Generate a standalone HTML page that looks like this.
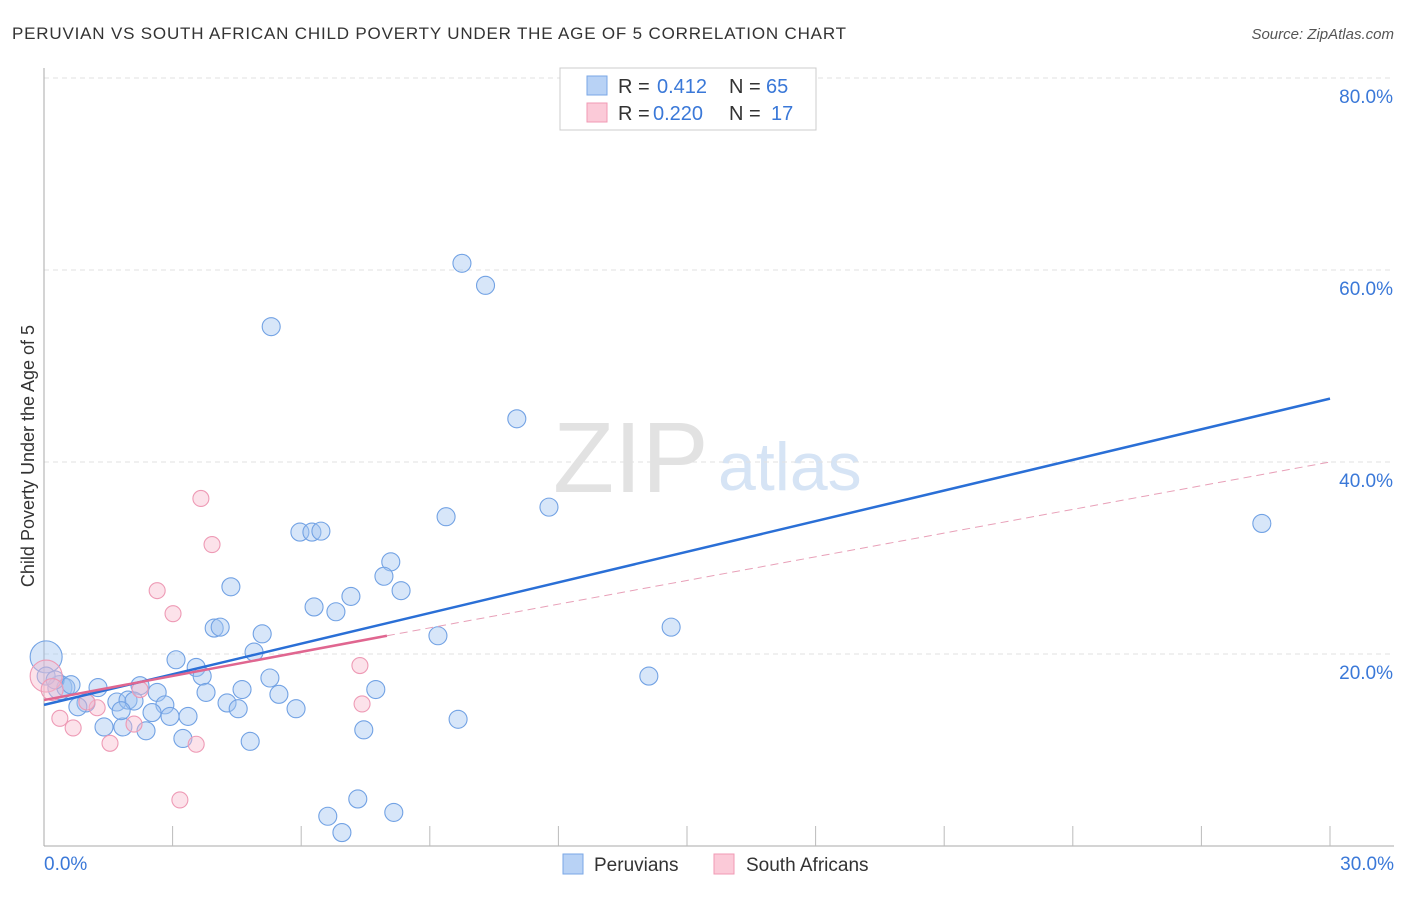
<!DOCTYPE html>
<html><head><meta charset="utf-8"><style>
body{margin:0;background:#fff;font-family:"Liberation Sans",sans-serif;}
svg text{font-family:"Liberation Sans",sans-serif;}
</style></head><body>
<svg id="chart" width="1406" height="892" viewBox="0 0 1406 892">
<text x="12" y="39" font-size="17" fill="#333" textLength="834">PERUVIAN VS SOUTH AFRICAN CHILD POVERTY UNDER THE AGE OF 5 CORRELATION CHART</text>
<text x="1394" y="39" font-size="15" fill="#555" font-style="italic" text-anchor="end">Source: ZipAtlas.com</text>
<text x="553" y="492" font-size="100" fill="#e2e2e2" font-family="Liberation Serif">ZIP</text>
<text x="718" y="490" font-size="68" fill="#d6e4f5">atlas</text>
<g id="grid"></g>
<g id="axes"></g>
<g id="pts"></g>
<g id="lines"></g>
<text transform="translate(34,456) rotate(-90)" font-size="18" fill="#333" text-anchor="middle">Child Poverty Under the Age of 5</text>
<g>
<rect x="560" y="68" width="256" height="62" fill="#fff" stroke="#ccc"/>
<rect x="587" y="76" width="20" height="19" fill="#b8d2f5" stroke="#7aa7e6"/>
<rect x="587" y="103" width="20" height="19" fill="#fbcad8" stroke="#f09ab4"/>
<text x="618" y="93" font-size="20" fill="#333">R =</text>
<text x="657" y="93" font-size="20" fill="#3a78d8">0.412</text>
<text x="729" y="93" font-size="20" fill="#333">N =</text>
<text x="766" y="93" font-size="20" fill="#3a78d8">65</text>
<text x="618" y="120" font-size="20" fill="#333">R =</text>
<text x="653" y="120" font-size="20" fill="#3a78d8">0.220</text>
<text x="729" y="120" font-size="20" fill="#333">N =</text>
<text x="771" y="120" font-size="20" fill="#3a78d8">17</text>
</g>
<g>
<rect x="563" y="854" width="20" height="20" fill="#b8d2f5" stroke="#7aa7e6"/>
<text x="594" y="871" font-size="19" fill="#333">Peruvians</text>
<rect x="714" y="854" width="20" height="20" fill="#fbcad8" stroke="#f09ab4"/>
<text x="746" y="871" font-size="19" fill="#333">South Africans</text>
</g>
</svg>
<script>
const yTicks=[20,40,60,80];
const xTickLabels=["0.0%","30.0%"];
const bluePts=[[5.3,54.1],[9.75,60.7],[10.3,58.4],[11.03,44.5],[11.78,35.3],[9.38,34.3],[28.41,33.6],[5.97,32.7],[6.25,32.7],[6.46,32.8],[8.09,29.6],[7.93,28.1],[8.33,26.6],[7.16,26.0],[6.3,24.9],[6.81,24.4],[4.36,27.0],[3.97,22.7],[4.11,22.8],[5.09,22.1],[9.19,21.9],[14.63,22.8],[4.9,20.2],[3.08,19.4],[3.55,18.6],[3.69,17.7],[5.27,17.5],[14.11,17.7],[0.05,19.7],[0.37,16.5],[0.51,16.5],[1.26,16.5],[2.24,16.7],[2.64,16.0],[3.78,16.0],[4.62,16.3],[5.48,15.8],[7.74,16.3],[0.98,14.9],[0.79,14.5],[1.70,15.0],[1.96,15.2],[2.1,15.1],[2.82,14.7],[2.52,13.9],[2.94,13.5],[3.36,13.5],[4.27,14.9],[4.53,14.3],[5.88,14.3],[1.40,12.4],[1.84,12.4],[2.38,12.0],[3.24,11.2],[4.81,10.9],[7.46,12.1],[9.66,13.2],[6.62,3.1],[7.32,4.9],[8.16,3.5],[6.95,1.4],[0.05,17.7],[0.26,17.3],[0.63,16.8],[1.80,14.1]];
const blueR=[9,9,9,9,9,9,9,9,9,9,9,9,9,9,9,9,9,9,9,9,9,9,9,9,9,9,9,9,16,12,9,9,9,9,9,9,9,9,9,9,9,9,9,9,9,9,9,9,9,9,9,9,9,9,9,9,9,9,9,9,9,9,9,9,9];
const pinkPts=[[3.66,36.2],[3.92,31.4],[2.64,26.6],[3.01,24.2],[7.37,18.8],[7.42,14.8],[0.05,17.7],[0.19,16.3],[0.37,13.3],[0.68,12.3],[1.24,14.4],[1.54,10.7],[2.1,12.7],[2.24,16.3],[3.55,10.6],[3.17,4.8],[1.0,15.0]];
const pinkR=[8,8,8,8,8,8,16,11,8,8,8,8,8,8,8,8,8];
const blueFit=[[0,14.7],[30,46.6]];
const pinkFit=[[0,15.2],[8.0,21.9],[30,40.0]];
const X0=44,X1=1330,Y0=846,PY=9.6;
const sx=v=>X0+(X1-X0)*v/30, sy=v=>Y0-v*PY;
const NS="http://www.w3.org/2000/svg";
function mk(t,a,p){const e=document.createElementNS(NS,t);for(const k in a)e.setAttribute(k,a[k]);p.appendChild(e);return e;}
const g=document.getElementById('grid'),ax=document.getElementById('axes');
yTicks.forEach(v=>{const l=mk('line',{x1:X0,x2:1394,y1:sy(v),y2:sy(v),stroke:'#e2e2e2','stroke-dasharray':'5,4'},g);


const t=mk('text',{x:1393,y:sy(v)+25,'font-size':19,fill:'#3a78d8','text-anchor':'end'},ax);t.textContent=v.toFixed(1)+'%';

});
const yl=mk('line',{x1:X0,x2:X0,y1:68,y2:Y0,stroke:'#aaa'},ax);


const xl=mk('line',{x1:X0,x2:1394,y1:Y0,y2:Y0,stroke:'#aaa'},ax);


for(let i=1;i<=10;i++){const tk=mk('line',{x1:sx(i*3),x2:sx(i*3),y1:826,y2:Y0,stroke:'#bbb'},ax);

}
[[xTickLabels[0],44,'start'],[xTickLabels[1],1394,'end']].forEach(([s,x,a])=>{const t=mk('text',{x:x,y:870,'font-size':19,fill:'#3a78d8','text-anchor':a},ax);t.textContent=s;

});
const pg=document.getElementById('pts');
bluePts.forEach((p,i)=>{const c=mk('circle',{cx:sx(p[0]),cy:sy(p[1]),r:blueR[i],fill:'rgba(160,195,240,0.42)',stroke:'#72a2e4','stroke-width':1.1},pg);

});
pinkPts.forEach((p,i)=>{const c=mk('circle',{cx:sx(p[0]),cy:sy(p[1]),r:pinkR[i],fill:'rgba(248,185,205,0.42)',stroke:'#ee9ab5','stroke-width':1.1},pg);

});
const lg=document.getElementById('lines');
const bl=mk('line',{x1:sx(blueFit[0][0]),y1:sy(blueFit[0][1]),x2:sx(blueFit[1][0]),y2:sy(blueFit[1][1]),stroke:'#2a6fd6','stroke-width':2.5},lg);


const pl=mk('line',{x1:sx(pinkFit[0][0]),y1:sy(pinkFit[0][1]),x2:sx(pinkFit[1][0]),y2:sy(pinkFit[1][1]),stroke:'#e06690','stroke-width':2.5},lg);


const pd=mk('line',{x1:sx(pinkFit[1][0]),y1:sy(pinkFit[1][1]),x2:sx(pinkFit[2][0]),y2:sy(pinkFit[2][1]),stroke:'#e8a0b8','stroke-width':1,'stroke-dasharray':'8,5'},lg);


</script>
</body></html>
